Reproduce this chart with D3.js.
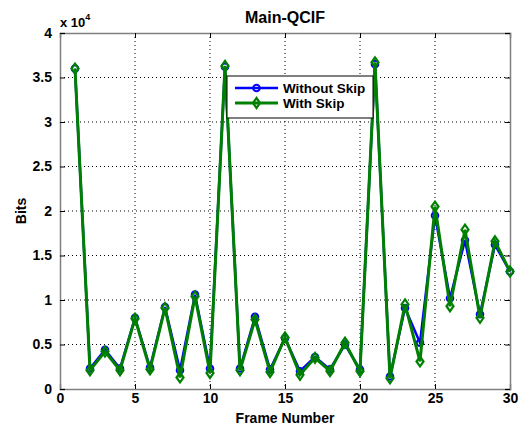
<!DOCTYPE html>
<html><head><meta charset="utf-8">
<script src="https://cdn.jsdelivr.net/npm/d3@7"></script>
<style>
body{margin:0;background:#fff;}
text{font-family:"Liberation Sans",Arial,sans-serif;}
</style></head><body>
<svg id="c" width="523" height="428"></svg>
<script>
const frames = d3.range(1, 31);
const withoutSkip = [3.60,0.23,0.44,0.23,0.80,0.24,0.92,0.21,1.06,0.23,3.62,0.23,0.81,0.22,0.57,0.20,0.36,0.22,0.50,0.22,3.65,0.14,0.91,0.52,1.95,1.02,1.67,0.84,1.62,1.32];
const withSkip    = [3.60,0.21,0.42,0.21,0.79,0.22,0.91,0.13,1.04,0.18,3.63,0.21,0.78,0.19,0.58,0.16,0.35,0.20,0.52,0.20,3.67,0.12,0.95,0.31,2.05,0.93,1.79,0.80,1.66,1.32];
const xTicks = [0,5,10,15,20,25,30];
const yTicks = [0,0.5,1,1.5,2,2.5,3,3.5,4];
const seriesNames = ["Without Skip","With Skip"];

const svg = d3.select("#c");
const L=60, R=510, T=33, B=389;
const x = d3.scaleLinear().domain([0,30]).range([L,R]);
const y = d3.scaleLinear().domain([0,4]).range([B,T]);

// grid
const g = svg.append("g");
xTicks.slice(1,-1).forEach(t=>g.append("line").attr("x1",x(t)).attr("x2",x(t)).attr("y1",T).attr("y2",B)
  .attr("stroke","#000").attr("stroke-width",1).attr("stroke-dasharray","1,3"));
yTicks.slice(1,-1).forEach(t=>g.append("line").attr("x1",L).attr("x2",R).attr("y1",y(t)).attr("y2",y(t))
  .attr("stroke","#000").attr("stroke-width",1).attr("stroke-dasharray","1,3"));

// axes
const xa = svg.append("g").attr("transform",`translate(0,${B})`)
  .call(d3.axisBottom(x).tickValues(xTicks).tickSize(-5).tickPadding(4).tickFormat(d3.format("d")));
const xa2 = svg.append("g").attr("transform",`translate(0,${T})`)
  .call(d3.axisTop(x).tickValues(xTicks).tickSize(-5).tickFormat(""));
const ya = svg.append("g").attr("transform",`translate(${L},0)`)
  .call(d3.axisLeft(y).tickValues(yTicks).tickSize(-5).tickPadding(8).tickFormat(d=>d3.format("")(d)));
const ya2 = svg.append("g").attr("transform",`translate(${R},0)`)
  .call(d3.axisRight(y).tickValues(yTicks).tickSize(-5).tickFormat(""));
[xa,xa2,ya,ya2].forEach(a=>{
  a.select(".domain").attr("stroke","#808080").attr("stroke-width",1.5);
  a.selectAll(".tick line").attr("stroke","#000");
  a.selectAll("text").attr("font-size",14).attr("font-weight","bold").attr("fill","#000")
   .style("font-family","'Liberation Sans',Arial,sans-serif");
});

// markers
const diamondPath = "M0,-5L3.5,0L0,5L-3.5,0Z";

// lines
const line = d3.line().x((d,i)=>x(frames[i])).y(d=>y(d));
svg.append("path").datum(withoutSkip).attr("d",line).attr("fill","none").attr("stroke","#0000ff").attr("stroke-width",2.5);
svg.selectAll(".m1").data(withoutSkip).enter().append("circle")
  .attr("cx",(d,i)=>x(frames[i])).attr("cy",d=>y(d)).attr("r",3.3)
  .attr("fill","none").attr("stroke","#0000ff").attr("stroke-width",2);
svg.append("path").datum(withSkip).attr("d",line).attr("fill","none").attr("stroke","#008000").attr("stroke-width",3);
svg.selectAll(".m2").data(withSkip).enter().append("path")
  .attr("d",diamondPath).attr("transform",(d,i)=>`translate(${x(frames[i])},${y(d)})`)
  .attr("fill","none").attr("stroke","#008000").attr("stroke-width",2.2);

// legend
const lg = svg.append("g");
lg.append("rect").attr("x",227).attr("y",76).attr("width",146).attr("height",42)
  .attr("fill","#fff").attr("stroke","#000").attr("stroke-width",1);
const lys=[88,103];
const cols=["#0000ff","#008000"];
lys.forEach((ly,i)=>{
  lg.append("line").attr("x1",235).attr("x2",278).attr("y1",ly).attr("y2",ly).attr("stroke",cols[i]).attr("stroke-width",i?3:2.5);
  if(i===0) lg.append("circle").attr("cx",256.5).attr("cy",ly).attr("r",3.3).attr("fill","none").attr("stroke",cols[i]).attr("stroke-width",2);
  else lg.append("path").attr("d",diamondPath).attr("transform",`translate(256.5,${ly})`).attr("fill","none").attr("stroke",cols[i]).attr("stroke-width",2.2);
  lg.append("text").attr("x",283).attr("y",ly+5).attr("font-size",13.5).attr("font-weight","bold").text(seriesNames[i]);
});

// title and labels
svg.append("text").attr("x",285).attr("y",23).attr("text-anchor","middle").attr("font-size",16).attr("font-weight","bold").text("Main-QCIF");
svg.append("text").attr("x",285).attr("y",423).attr("text-anchor","middle").attr("font-size",14).attr("font-weight","bold").text("Frame Number");
svg.append("text").attr("transform","translate(26,211) rotate(-90)").attr("text-anchor","middle").attr("font-size",14).attr("font-weight","bold").text("Bits");
const ex = svg.append("text").attr("x",60).attr("y",27).attr("font-size",13).attr("font-weight","bold");
ex.append("tspan").text("x 10");
ex.append("tspan").attr("dy",-7).attr("font-size",9).text("4");
</script></body></html>
